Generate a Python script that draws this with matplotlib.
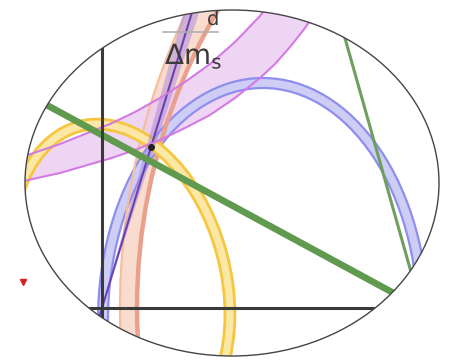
import numpy as np
import matplotlib
matplotlib.use('Agg')
import matplotlib.pyplot as plt
import matplotlib.patheffects as pe
from matplotlib.patches import Ellipse, Annulus, Circle, Wedge

plt.rcParams['font.family'] = ['DejaVu Sans']
plt.rcParams['mathtext.fontset'] = 'dejavusans'

# ---------------- data (rho, eta plane) ----------------
frame_center = (0.325, 0.3125)
frame_size = (1.035, 0.865)

apex = (0.1225, 0.4025)

green_pivot = (0.798, 0.0)
green_slopes = [-0.542, -3.54]
green_widths = [4.8, 2.2]
green_colors = ['#5f9a4f', '#6f9f60']

gamma_angles = [71.8, 74.6]

yellow_center = (0.046, 0.0675)
yellow_axes = (0.2625, 0.40)
yellow_angle = 15.0

blue_center = (0.4025, -0.03)
blue_axes = (0.40, 0.5925)

salmon_outer_center = (1.7775, 0.0)
salmon_outer_radius = 1.7325
salmon_inner_center = (1.56, 0.0)
salmon_inner_radius = 1.4725

purple_upper_rho = [-0.23, -0.105, 0.02, 0.0825, 0.145, 0.2075, 0.27, 0.3325, 0.395, 0.47]
purple_upper_eta = [0.3675, 0.41, 0.46, 0.49, 0.525, 0.565, 0.61, 0.665, 0.73, 0.8275]
purple_lower_rho = [-0.23, -0.105, 0.02, 0.0825, 0.145, 0.2075, 0.27, 0.3325, 0.395, 0.4325, 0.47, 0.5075, 0.545]
purple_lower_eta = [0.31, 0.3375, 0.37375, 0.395, 0.42, 0.45, 0.4825, 0.525, 0.575, 0.61, 0.6525, 0.70, 0.75625]

label_den_text = r'$\Delta\mathrm{m}_{\mathrm{s}}$'
label_den_pos = (0.1575, 0.61)
label_num_text = 'd'
label_num_pos = (0.2625, 0.7075)
frac_bar_rho = [0.1525, 0.29]
frac_bar_eta = [0.69, 0.69]

red_mark_rho = [-0.1975]
red_mark_eta = [0.065]

# ---------------- figure ----------------
fig = plt.figure(figsize=(4.52, 3.61), dpi=100)
ax = fig.add_axes([0, 0, 1, 1])
ax.set_xlim(-0.255, 0.875)
ax.set_ylim(-0.1325, 0.77)
ax.axis('off')

frame = Ellipse(frame_center, frame_size[0], frame_size[1], fill=False,
                ec='#454545', lw=1.0, zorder=20)
ax.add_patch(frame)


def clip(a):
    a.set_clip_path(frame)
    return a


def ring(center, axes, angle, hw, line_color, fill_color, lw, z):
    a, b = axes
    ann = Annulus(center, (a + hw, b + hw), 2 * hw, angle=angle,
                  fc=fill_color, ec='none', zorder=z)
    clip(ax.add_patch(ann))
    for s in (hw, -hw):
        e = Ellipse(center, 2 * (a + s), 2 * (b + s), angle=angle, fill=False,
                    ec=line_color, lw=lw, zorder=z + 0.1)
        clip(ax.add_patch(e))


# salmon band fill (outer disc minus inner disc)
clip(ax.add_patch(Circle(salmon_outer_center, salmon_outer_radius,
                         fc='#f9dccd', ec='none', zorder=1)))
clip(ax.add_patch(Circle(salmon_inner_center, salmon_inner_radius,
                         fc='white', ec='none', zorder=1.1)))

# purple band fill
pu_x = np.concatenate([purple_upper_rho, purple_lower_rho[::-1]])
pu_y = np.concatenate([purple_upper_eta, purple_lower_eta[::-1]])
for p in ax.fill(pu_x, pu_y, color='#e9c8f0', alpha=0.75, lw=0, zorder=2):
    clip(p)

# blue band
ring(blue_center, blue_axes, 0, 0.0125, '#8e8eee', '#cdcdf6', 1.6, 3)

# salmon edges
clip(ax.add_patch(Circle(salmon_outer_center, salmon_outer_radius, fill=False,
                         ec='#f4bf9f', lw=1.6, zorder=4)))
clip(ax.add_patch(Circle(salmon_inner_center, salmon_inner_radius, fill=False,
                         ec='#e9a08c', lw=3.2, zorder=4)))

# yellow band
ring(yellow_center, yellow_axes, yellow_angle, 0.0125, '#f6c73e', '#fbe8a6', 2.0, 5)

# violet wedge and line
clip(ax.add_patch(Wedge((0, 0), 2.0, gamma_angles[0], gamma_angles[1],
                        fc='#a886dc', ec='none', alpha=0.5, zorder=6)))
clip(ax.axline((0, 0), apex, color='#6a42b0', lw=1.5, zorder=6.5))

# purple lines
for xs, ys in ((purple_upper_rho, purple_upper_eta), (purple_lower_rho, purple_lower_eta)):
    for l in ax.plot(xs, ys, color='#d47ae4', lw=1.5, zorder=7):
        clip(l)

# green lines
for s, w, c in zip(green_slopes, green_widths, green_colors):
    clip(ax.axline(green_pivot, slope=s, color=c, lw=w, zorder=8))

# axes
clip(ax.axhline(0, color='#3a3a3a', lw=2.2, zorder=9))
clip(ax.axvline(0, color='#3a3a3a', lw=2.2, zorder=9))

# apex dot
for l in ax.plot([apex[0]], [apex[1]], 'o', color='#222222', ms=4, zorder=10):
    clip(l)

# label (drawn as paths so the frame clips it)
t1 = ax.text(*label_den_pos, label_den_text, fontsize=20,
             color='#3a3a3a', ha='left', va='baseline', zorder=12,
             path_effects=[pe.Normal()])
clip(t1)
t2 = ax.text(*label_num_pos, label_num_text, fontsize=14,
             color='#3a3a3a', ha='left', va='baseline', zorder=12,
             path_effects=[pe.Normal()])
clip(t2)
for l in ax.plot(frac_bar_rho, frac_bar_eta, color='#b0b0b0', lw=1.2, zorder=12):
    clip(l)

# stray red mark outside the frame
ax.plot(red_mark_rho, red_mark_eta, marker='v', ls='none', color='#d62020',
        ms=5, zorder=12)

fig.savefig('out.png', dpi=100)
